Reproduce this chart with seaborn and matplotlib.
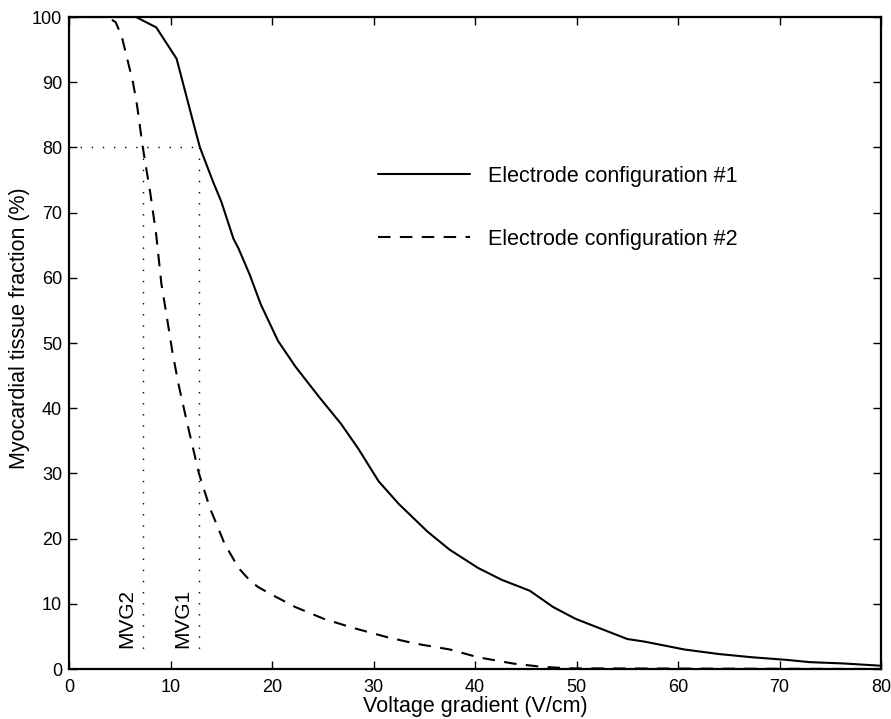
import numpy as np
import pandas as pd
import matplotlib
matplotlib.use("Agg")
import matplotlib.pyplot as plt
import seaborn as sns

# ---- data ----
x_cfg1 = [0, 6.6, 8.6, 10.6, 12.5, 12.9, 14.2, 15.0, 16.2, 16.7, 17.8, 18.9, 20.6, 22.3,
          24.6, 26.8, 28.5, 30.5, 32.5, 35.3, 37.5, 40.3, 42.6, 45.4, 47.7, 49.9,
          52.2, 55.0, 56.7, 60.6, 64.0, 67.3, 70.7, 73.0, 76.3, 80.0]
y_cfg1 = [100, 100, 98.4, 93.6, 82.3, 80.0, 74.7, 71.7, 66.0, 64.5, 60.5, 55.9, 50.3, 46.4,
          41.8, 37.6, 33.8, 28.8, 25.3, 21.1, 18.3, 15.5, 13.7, 12.0, 9.5, 7.7,
          6.3, 4.6, 4.2, 3.0, 2.3, 1.8, 1.4, 1.05, 0.85, 0.5]

x_cfg2 = [0, 3.8, 4.6, 5.2, 6.3, 6.7, 7.27, 8.0, 8.6, 9.1, 9.7, 10.2, 10.8, 11.6, 12.2,
          12.8, 13.9, 14.6, 15.3, 16.7, 17.8, 18.6, 20.1, 22.3, 25.1, 28.0, 31.3,
          34.1, 37.5, 40.3, 43.7, 46.5, 49.3, 80.0]
y_cfg2 = [100, 100, 99.2, 97.0, 90.0, 86.5, 80.0, 73.1, 66.5, 59.1, 53.4, 48.5, 43.6, 38.0, 34.0,
          30.0, 24.6, 22.0, 19.3, 15.5, 13.6, 12.6, 11.3, 9.5, 7.7, 6.3, 4.9,
          3.9, 3.0, 1.8, 0.85, 0.35, 0.1, 0.0]

series_labels = ["Electrode configuration #1", "Electrode configuration #2"]
mvg_values = [12.8, 7.27]          # MVG1, MVG2
mvg_labels = ["MVG1", "MVG2"]
mvg_text_x = [11.2, 5.7]
threshold = 80
x_ticks = [0, 10, 20, 30, 40, 50, 60, 70, 80]
y_ticks = [0, 10, 20, 30, 40, 50, 60, 70, 80, 90, 100]

df = pd.concat([
    pd.DataFrame({"x": x_cfg1, "y": y_cfg1, "cfg": series_labels[0]}),
    pd.DataFrame({"x": x_cfg2, "y": y_cfg2, "cfg": series_labels[1]}),
])

sns.set_theme(style="ticks")
plt.rcParams["font.family"] = ["Liberation Sans", "DejaVu Sans"]
plt.rcParams["text.color"] = "black"
plt.rcParams["axes.labelcolor"] = "black"
plt.rcParams["xtick.color"] = "black"
plt.rcParams["ytick.color"] = "black"

fig = plt.figure(figsize=(8.91, 7.19), dpi=100)
ax = fig.add_axes([69 / 891, 1 - 669 / 719, (881 - 69) / 891, (669 - 17) / 719])

sns.lineplot(data=df[df.cfg == series_labels[0]], x="x", y="y", ax=ax, color="black",
             lw=1.5, label=series_labels[0], sort=False)
sns.lineplot(data=df[df.cfg == series_labels[1]], x="x", y="y", ax=ax, color="black",
             lw=1.5, linestyle=(0, (6, 4.5)), label=series_labels[1], sort=False)

# dotted guide lines
ax.plot([0, max(mvg_values)], [threshold, threshold], color="black", lw=1.0,
        linestyle=(0, (1, 7)))
for xv in mvg_values:
    ax.plot([xv, xv], [threshold, 2.5], color="black", lw=1.0, linestyle=(0, (1, 7)))
for lbl, tx in zip(mvg_labels, mvg_text_x):
    ax.text(tx, 3.2, lbl, rotation=90, ha="center", va="bottom", fontsize=15)

ax.set_xlim(0, 80)
ax.set_ylim(0, 100)
ax.set_xticks(x_ticks)
ax.set_yticks(y_ticks)
ax.tick_params(direction="in", length=6, width=1, labelsize=13, top=True, right=True,
               colors="black")
ax.tick_params(axis="x", pad=7)
ax.tick_params(axis="y", pad=5)
for s in ax.spines.values():
    s.set_linewidth(1.6)
    s.set_color("black")

ax.set_xlabel("Voltage gradient (V/cm)", fontsize=15.5)
ax.set_ylabel("Myocardial tissue fraction (%)", fontsize=15.5)
ax.xaxis.set_label_coords(0.5, -0.042)
ax.yaxis.set_label_coords(-0.048, 0.523)

leg = ax.legend(loc="upper left", bbox_to_anchor=(0.38, 0.772), frameon=False,
                fontsize=15.5, handlelength=4.3, handletextpad=0.85, labelspacing=1.95,
                borderpad=0, borderaxespad=0)
for h in leg.get_lines():
    h.set_linewidth(1.5)

fig.savefig("out.png", dpi=100)
